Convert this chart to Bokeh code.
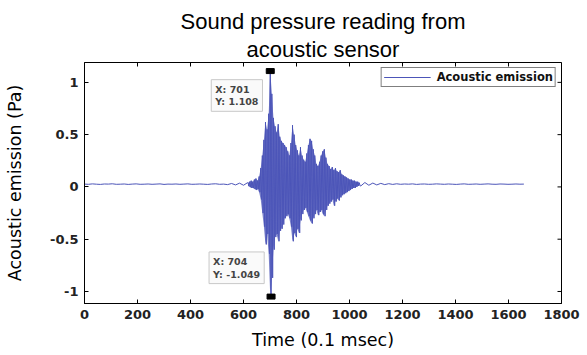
import math
from bokeh.plotting import figure
from bokeh.models import Range1d, FixedTicker, Title, Label, Legend, LegendItem
from bokeh.embed import file_html
from bokeh.resources import INLINE

# ---------------- texts ----------------
title_lines = ["Sound pressure reading from", "acoustic sensor"]
x_label = "Time (0.1 msec)"
y_label = "Acoustic emission (Pa)"
series_name = "Acoustic emission"

# ---------------- ticks / ranges ----------------
x_ticks = [0, 200, 400, 600, 800, 1000, 1200, 1400, 1600, 1800]
y_ticks = [-1, -0.5, 0, 0.5, 1]
y_tick_labels = ["-1", "-0.5", "0", "0.5", "1"]
x_lim = (0, 1800)
y_lim = (-1.115, 1.19)

# ---------------- signal ----------------
pre_start, pre_step = 0, 15
quiet_pre = [0.027, 0.025, 0.029, 0.026, 0.024, 0.028, 0.027, 0.030, 0.025, 0.026,
             0.028, 0.024, 0.027, 0.029, 0.025, 0.026, 0.028, 0.025, 0.027, 0.029,
             0.024, 0.027, 0.026, 0.028, 0.025, 0.027, 0.029, 0.025, 0.026, 0.028,
             0.026, 0.024, 0.028, 0.030, 0.025, 0.027, 0.022, 0.033, 0.019, 0.036,
             0.016, 0.040]

burst_start, burst_step = 617, 6
burst_top = [0.04, 0.05, 0.06, 0.05, 0.07, 0.08, 0.06, 0.10, 0.18, 0.30,
             0.45, 0.62, 0.55, 0.70, 1.108, 0.89, 0.66, 0.58, 0.52, 0.60,
             0.48, 0.44, 0.42, 0.40, 0.38, 0.34, 0.30, 0.42, 0.59, 0.50,
             0.40, 0.35, 0.30, 0.38, 0.30, 0.26, 0.24, 0.32, 0.40, 0.46,
             0.44, 0.36, 0.30, 0.22, 0.20, 0.24, 0.30, 0.34, 0.36, 0.28,
             0.22, 0.20, 0.17, 0.19, 0.16, 0.18, 0.15, 0.14, 0.16, 0.12,
             0.11, 0.10, 0.09, 0.08, 0.07, 0.07, 0.06, 0.06, 0.05, 0.05,
             0.04]
burst_bottom = [0.01, 0.00, -0.01, -0.01, -0.02, -0.03, -0.02, -0.05, -0.12, -0.25,
                -0.38, -0.55, -0.45, -0.64, -1.049, -0.87, -0.60, -0.48, -0.45, -0.52,
                -0.42, -0.40, -0.36, -0.30, -0.28, -0.26, -0.30, -0.38, -0.52, -0.44,
                -0.48, -0.40, -0.44, -0.32, -0.26, -0.22, -0.20, -0.24, -0.28, -0.32,
                -0.35, -0.30, -0.26, -0.22, -0.27, -0.24, -0.22, -0.26, -0.28, -0.22,
                -0.18, -0.16, -0.14, -0.12, -0.18, -0.14, -0.11, -0.13, -0.10, -0.08,
                -0.07, -0.06, -0.05, -0.04, -0.03, -0.02, -0.01, -0.01, 0.00, 0.01,
                0.01]

post_start, post_step = 1043, 15
quiet_post = [0.010, 0.042, 0.016, 0.037, 0.019, 0.034, 0.022, 0.031, 0.024, 0.030,
              0.025, 0.028, 0.026, 0.029, 0.024, 0.027, 0.028, 0.025, 0.026, 0.029,
              0.027, 0.025, 0.028, 0.026, 0.024, 0.027, 0.029, 0.025, 0.026, 0.028,
              0.025, 0.027, 0.029, 0.026, 0.025, 0.028, 0.027, 0.025, 0.026, 0.028,
              0.026, 0.027]

# data tips
tip_x = [701, 704]
tip_y = [1.108, -1.049]

# ---------------- assemble series ----------------
t, y = [], []
for i, v in enumerate(quiet_pre):
    t.append(pre_start + i * pre_step)
    y.append(v)
burst_t = []
for i, (a, b) in enumerate(zip(burst_top, burst_bottom)):
    t0 = burst_start + i * burst_step
    burst_t.append(t0)
    t += [t0, t0 + burst_step / 2]
    y += [a, b]
for i, v in enumerate(quiet_post):
    t.append(post_start + i * post_step)
    y.append(v)

LINE_COLOR = "#4c55b8"
TICK_FONT = "DejaVu Sans"

p = figure(width=587, height=355, output_backend="svg", toolbar_location=None,
           title=None,
           x_range=Range1d(*x_lim), y_range=Range1d(*y_lim),
           min_border_left=84, min_border_right=26,
           min_border_top=62, min_border_bottom=52)
p.background_fill_color = "white"
p.border_fill_color = "white"
p.outline_line_color = "black"
p.outline_line_width = 1
p.xgrid.visible = False
p.ygrid.visible = False

xa = p.xaxis[0]
ya = p.yaxis[0]
xa.ticker = FixedTicker(ticks=x_ticks)
ya.ticker = FixedTicker(ticks=y_ticks)
ya.major_label_overrides = {v: s for v, s in zip(y_ticks, y_tick_labels)}
for ax in (xa, ya):
    ax.axis_line_color = "black"
    ax.major_tick_line_color = "black"
    ax.major_tick_in = 4
    ax.major_tick_out = 0
    ax.minor_tick_line_color = None
    ax.major_label_text_font = TICK_FONT
    ax.major_label_text_font_style = "bold"
    ax.major_label_text_font_size = "13px"
    ax.major_label_text_color = "#222222"
    ax.axis_label_text_font = "DejaVu Sans"
    ax.axis_label_text_font_style = "normal"
    ax.axis_label_text_font_size = "17.5px"
    ax.axis_label_text_color = "black"
xa.axis_label = x_label
ya.axis_label = y_label
xa.major_label_standoff = 6
xa.axis_label_standoff = 8
ya.major_label_standoff = 6
ya.axis_label_standoff = 22

# box-style inward ticks on the top and right edges (clipped to the frame)
p.scatter(x=x_ticks, y=[y_lim[1]] * len(x_ticks), marker="dash", angle=math.pi / 2,
          size=8, line_color="black", line_width=1)
p.scatter(x=[x_lim[1]] * len(y_ticks), y=y_ticks, marker="dash",
          size=8, line_color="black", line_width=1)

# titles (second line added first: nearest to the frame)
p.add_layout(Title(text=title_lines[1], align="center", text_font="Liberation Sans",
                   text_font_size="22px", text_font_style="normal",
                   text_color="black", standoff=2), "above")
p.add_layout(Title(text=title_lines[0], align="center", text_font="Liberation Sans",
                   text_font_size="22px", text_font_style="normal",
                   text_color="black", standoff=0), "above")

# dense oscillation of the burst + the trace itself
p.varea(x=burst_t, y1=burst_bottom, y2=burst_top, fill_color=LINE_COLOR, fill_alpha=0.75)
r = p.line(t, y, line_color=LINE_COLOR, line_width=1)

legend = Legend(items=[LegendItem(label=series_name, renderers=[r])],
                location="top_right", margin=5, padding=2, spacing=0,
                glyph_width=47, glyph_height=8, label_height=8,
                label_standoff=6, label_text_font="DejaVu Sans",
                label_text_font_style="bold", label_text_font_size="11.5px",
                label_text_color="#111111",
                border_line_color="black", border_line_width=1,
                background_fill_color="white", background_fill_alpha=1)
p.add_layout(legend)

# data tip markers
p.rect(x=tip_x, y=tip_y, width=8, height=5, width_units="screen",
       height_units="screen", fill_color="black", line_color="black")

tip_common = dict(text_font="DejaVu Sans", text_font_size="9.5px",
                  text_font_style="bold", text_color="#444444",
                  text_align="left", text_line_height=1.15,
                  background_fill_color="#fafafa", background_fill_alpha=1,
                  border_line_color="#c8c8c8", border_line_width=1, padding=4)
p.add_layout(Label(x=tip_x[0], y=tip_y[0],
                   text=f"X: {tip_x[0]}\nY: {tip_y[0]:.3f}",
                   x_offset=-59, y_offset=-8.6, text_baseline="top",
                   **tip_common))
p.add_layout(Label(x=tip_x[1], y=tip_y[1],
                   text=f"X: {tip_x[1]}\nY: {tip_y[1]:.3f}",
                   x_offset=-62, y_offset=13, text_baseline="bottom",
                   **tip_common))

open("out.html", "w").write(file_html(p, INLINE))
